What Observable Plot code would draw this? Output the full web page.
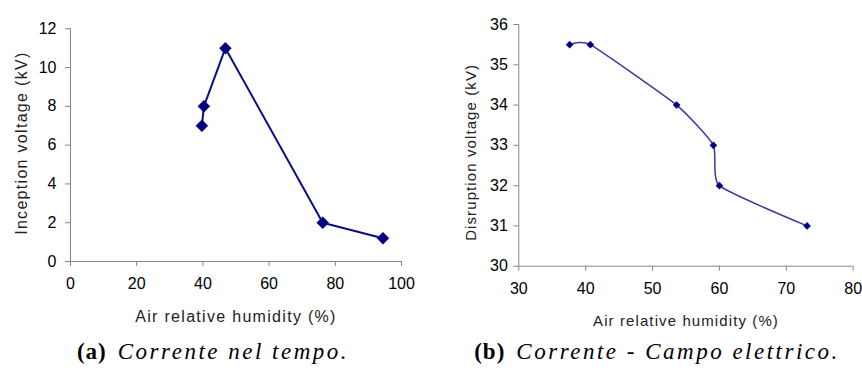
<!DOCTYPE html>
<html>
<head>
<meta charset="utf-8">
<script src="https://cdn.jsdelivr.net/npm/d3@7"></script>
<script src="https://cdn.jsdelivr.net/npm/@observablehq/plot@0.6"></script>
<style>
  body { margin: 0; background: #fff; }
  #fig { position: relative; width: 862px; height: 371px; overflow: hidden; background: #fff; }
  .panel { position: absolute; top: 0; }
  .cap {
    position: absolute; top: 339px; transform: translateX(-50%);
    white-space: nowrap; font-family: "Liberation Serif", "DejaVu Serif", serif;
    font-size: 23px; color: #000; letter-spacing: 2.5px;
  }
  .cap b { font-weight: bold; font-style: normal; margin-right: 11px; letter-spacing: 1px; }
  .cap i { font-style: italic; }
</style>
</head>
<body>
<div id="fig">
  <div id="panelA" class="panel" style="left:0px"></div>
  <div id="panelB" class="panel" style="left:430px"></div>
  <div class="cap" style="left:213px"><b>(a)</b><i>Corrente nel tempo.</i></div>
  <div class="cap" style="left:657px"><b>(b)</b><i>Corrente - Campo elettrico.</i></div>
</div>
<script>
// (a) inception voltage vs relative humidity
const inceptionHumidity = [39.7, 40.3, 46.8, 76.2, 94.4];
const inceptionVoltage = [7, 8, 11, 2, 1.2];
const humidityTicksA = [0, 20, 40, 60, 80, 100];
const voltageTicksA = [0, 2, 4, 6, 8, 10, 12];

// (b) disruption voltage vs relative humidity
const disruptionHumidity = [37.6, 40.7, 53.6, 59.1, 60.0, 73.1];
const disruptionVoltage = [35.5, 35.5, 34, 33, 32, 31];
const humidityTicksB = [30, 40, 50, 60, 70, 80];
const voltageTicksB = [30, 31, 32, 33, 34, 35, 36];

const xLabel = "Air relative humidity (%)";
const yLabelA = "Inception voltage (kV)";
const yLabelB = "Disruption voltage (kV)";

const axisGrey = "#868686";
const font = "'Liberation Sans', Arial, sans-serif";

function panel({hum, volt, xTicks, yTicks, yLabel, width, height, margins, line, dots, lbl}) {
  const rows = hum.map((h, i) => ({h, v: volt[i]}));
  return Plot.plot({
    width, height,
    marginLeft: margins[0], marginRight: margins[1], marginTop: margins[2], marginBottom: margins[3],
    x: {domain: [xTicks[0], xTicks[xTicks.length - 1]]},
    y: {domain: [yTicks[0], yTicks[yTicks.length - 1]]},
    style: {fontFamily: font, fontSize: lbl.tickSize + "px", color: "#000", background: "transparent", overflow: "visible"},
    marks: [
      Plot.ruleY([yTicks[0]], {stroke: axisGrey, strokeWidth: 1}),
      Plot.ruleX([xTicks[0]], {stroke: axisGrey, strokeWidth: 1}),
      Plot.axisX({ticks: xTicks, tickFormat: "d", tickSize: 5, tickPadding: lbl.xPad, stroke: axisGrey, fill: "#000", label: null}),
      Plot.axisY({ticks: yTicks, tickFormat: "d", tickSize: 5, tickPadding: lbl.yPad, stroke: axisGrey, fill: "#000", label: null}),
      Plot.text([xLabel], {frameAnchor: "bottom", dy: lbl.xDy, fontSize: lbl.size, fill: "#222", textAnchor: "middle", lineAnchor: "middle", text: d => d}),
      Plot.text([yLabel], {frameAnchor: "left", dx: lbl.yDx, dy: lbl.yDy, rotate: -90, fontSize: lbl.size, fill: "#222", textAnchor: "middle", lineAnchor: "middle", text: d => d}),
      Plot.line(rows, {x: "h", y: "v", stroke: line.color, strokeWidth: line.width, curve: line.curve, tension: line.tension}),
      Plot.dot(rows, {x: "h", y: "v", symbol: "diamond2", r: dots.r, fill: dots.color, stroke: dots.color, strokeWidth: 0.5})
    ]
  });
}

const a = panel({
  hum: inceptionHumidity, volt: inceptionVoltage,
  xTicks: humidityTicksA, yTicks: voltageTicksA, yLabel: yLabelA,
  width: 431, height: 335, margins: [70, 30, 28.3, 74],
  line: {color: "#0c0c8a", width: 2, curve: "linear"},
  dots: {color: "#000080", r: 5.4},
  lbl: {tickSize: 16, size: 16, xPad: 11, yPad: 9, xDy: 55, yDx: -49, yDy: -2}
});
const b = panel({
  hum: disruptionHumidity, volt: disruptionVoltage,
  xTicks: humidityTicksB, yTicks: voltageTicksB, yLabel: yLabelB,
  width: 432, height: 340, margins: [88.3, 9.3, 24, 74.3],
  line: {color: "#3a3a9a", width: 1.5, curve: "cardinal", tension: 0.5},
  dots: {color: "#000080", r: 3.2},
  lbl: {tickSize: 16, size: 15, xPad: 11, yPad: 6, xDy: 54.5, yDx: -47.3, yDy: 7}
});

// extra letter spacing on the axis titles
for (const svg of [a, b]) {
  svg.querySelectorAll("text").forEach(t => {
    if (t.textContent === xLabel || t.textContent === yLabelA || t.textContent === yLabelB) {
      t.setAttribute("letter-spacing", svg === a ? "1.3" : "1.1");
    }
  });
}
document.getElementById("panelA").append(a);
document.getElementById("panelB").append(b);
</script>
</body>
</html>
